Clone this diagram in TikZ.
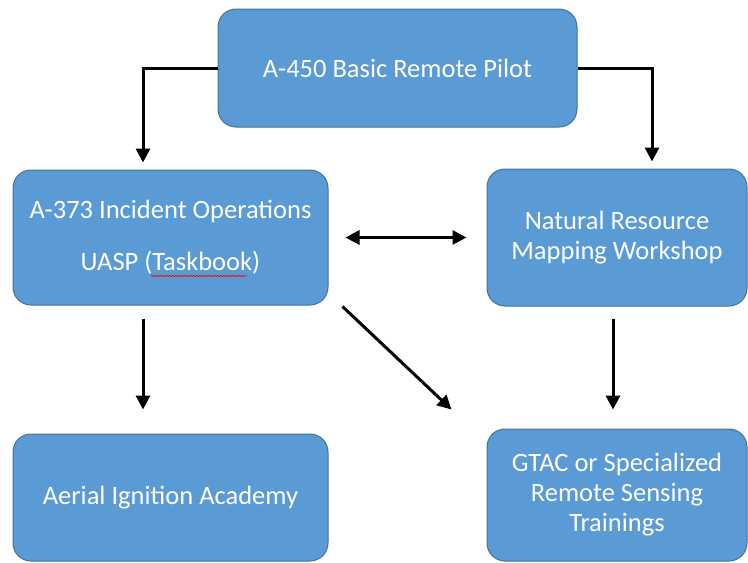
\documentclass[tikz,border=0pt]{standalone}
\usepackage{fontspec}
\setmainfont{Carlito}
\usetikzlibrary{arrows.meta,decorations.pathmorphing}
\definecolor{boxfill}{HTML}{5B9BD5}
\definecolor{boxline}{HTML}{41719C}
\begin{document}
\begin{tikzpicture}[x=1pt,y=-1pt,
 box/.style={draw=boxline, line width=1pt, fill=boxfill, rounded corners=18pt,
   text=white, align=center, font=\fontsize{26.5}{30}\selectfont, inner sep=0pt},
 arr/.style={line width=3pt, -{Triangle[length=14pt,width=14pt]}},
 darr/.style={line width=3pt, {Triangle[length=14pt,width=14pt]}-{Triangle[length=14pt,width=14pt]}},
 squig/.style={draw=red, line width=0.6pt, decorate, decoration={snake, amplitude=0.8pt, segment length=3pt}}
]
\useasboundingbox (0,0) rectangle (748,563);
\node[box, minimum width=359pt, minimum height=118pt] (top) at (397.5,68) {A-450 Basic Remote Pilot};
\node[box, minimum width=315pt, minimum height=135pt] (ops) at (170.5,237.5) {A-373 Incident Operations\\[22pt]UASP (Taskbook)};
\node[box, minimum width=260pt, minimum height=137pt] (nrm) at (617,237.5) {Natural Resource\\Mapping Workshop};
\node[box, minimum width=315pt, minimum height=127pt] (ail) at (170.5,497.5) {Aerial Ignition Academy};
\node[box, minimum width=260pt, minimum height=132pt] (gtac) at (617,495) {GTAC or Specialized\\Remote Sensing\\Trainings};
\draw[squig] (151,276) -- (247,276);
\draw[arr] (top.west) -| ([xshift=-27.5pt,yshift=7pt]ops.north);
\draw[arr] (top.east) -| ([xshift=35pt,yshift=7pt]nrm.north);
\draw[darr, shorten <=17pt, shorten >=20pt] (ops.east) -- (nrm.west);
\draw[arr] ([xshift=-27.5pt,yshift=-13pt]ops.south) -- ([xshift=-27.5pt,yshift=24pt]ail.north);
\draw[arr] ([xshift=-4pt,yshift=-12pt]nrm.south) -- ([xshift=-4pt,yshift=19pt]gtac.north);
\draw[arr] ([xshift=14pt,yshift=-1pt]ops.south east) -- ([xshift=-35pt,yshift=19pt]gtac.north west);
\end{tikzpicture}
\end{document}
